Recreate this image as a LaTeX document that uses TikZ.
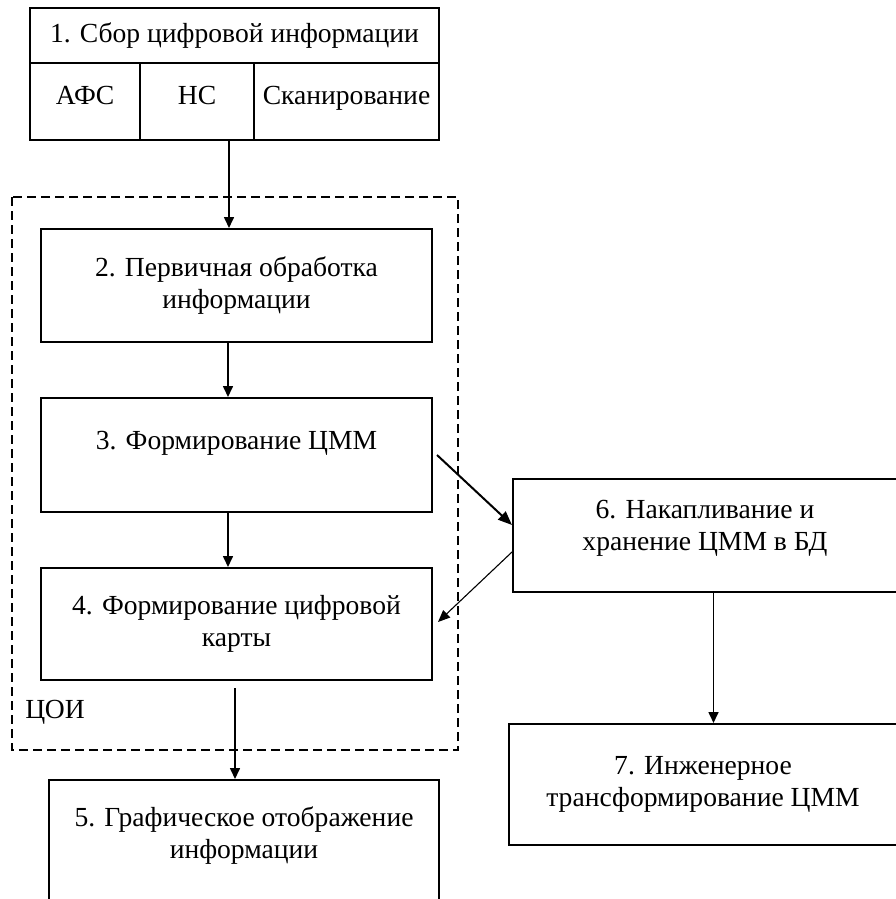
\documentclass[tikz,border=0pt]{standalone}
\usepackage{fontspec}
\setmainfont{Liberation Serif}
\usepackage{tikz}
\usetikzlibrary{arrows.meta,positioning,calc}

\begin{document}
\begin{tikzpicture}[
  x=0.5pt, y=-0.5pt,
  txt/.style={font=\fontsize{13.8}{16.2}\selectfont},
  box/.style={txt, draw, line width=1pt, align=center, inner sep=0pt},
  cell/.style={box, anchor=north west, outer sep=0pt, minimum height=38.5pt, text depth=6pt},
  zone/.style={draw, line width=1pt, dash pattern=on 4.5pt off 2.5pt},
  arr/.style={-{Triangle[length=5.5pt,width=5pt]}, line width=0.8pt},
  arrbold/.style={-{Triangle[length=7pt,width=5.5pt]}, line width=1pt},
  arrthin/.style={-{Triangle[length=6pt,width=5pt]}, line width=0.55pt},
]
\fill[white] (0,0) rectangle (895,899);
\useasboundingbox (0,0) rectangle (895,899);
\node[box, outer sep=0pt, minimum width=204.5pt, minimum height=27.5pt] (title) at (234.5,35.5) {1. Сбор цифровой информации};
\node[cell, minimum width=55pt] (afs) at (title.south west) {АФС};
\node[cell, minimum width=57pt] (ns) at (afs.north east) {НС};
\node[cell, minimum width=92.5pt] (scan) at (ns.north east) {Сканирование};
\draw[zone] (12,197) rectangle (458,750);
\node[box, minimum width=195.5pt, minimum height=56.5pt] (prim) at (236.5,285.5) {2. Первичная обработка\\информации};
\node[box, minimum width=195.5pt, minimum height=57pt, text depth=15pt] (form) at (236.5,455) {3. Формирование ЦММ};
\node[box, minimum width=195.5pt, minimum height=56pt] (map) at (236.5,624) {4. Формирование цифровой\\карты};
\node[txt] (coi) at (55,712) {ЦОИ};
\node[box, minimum width=195pt, minimum height=62.5pt, text depth=10pt] (graph) at (244,842.5) {5. Графическое отображение\\информации};
\node[box, minimum width=192pt, minimum height=56.5pt, text depth=10pt] (store) at (705,535.5) {6. Накапливание и\\хранение ЦММ в БД};
\node[box, minimum width=194pt, minimum height=60.5pt] (eng) at (703,784.5) {7. Инженерное\\трансформирование ЦММ};
\draw[arr] ([xshift=-2.75pt]title.south |- ns.south) -- ([xshift=-2.75pt]title.south |- prim.north);
\draw[arr] ([xshift=-4.25pt]prim.south) -- ([xshift=-4.25pt]form.north);
\draw[arr] ([xshift=-4.25pt]form.south) -- ([xshift=-4.25pt]map.north);
\draw[arr, shorten <=3.5pt] ([xshift=-0.75pt]map.south) -- ([xshift=-0.75pt]map.south |- graph.north);
\draw[arrbold] ([xshift=2pt]form.east) -- ([yshift=5.25pt]store.west);
\draw[arrthin] ([yshift=-8.25pt]store.west) -- ([xshift=2.5pt,yshift=1pt]map.east);
\draw[arr] ([xshift=4.25pt]store.south) -- ([xshift=4.25pt]store.south |- eng.north);
\end{tikzpicture}
\end{document}
